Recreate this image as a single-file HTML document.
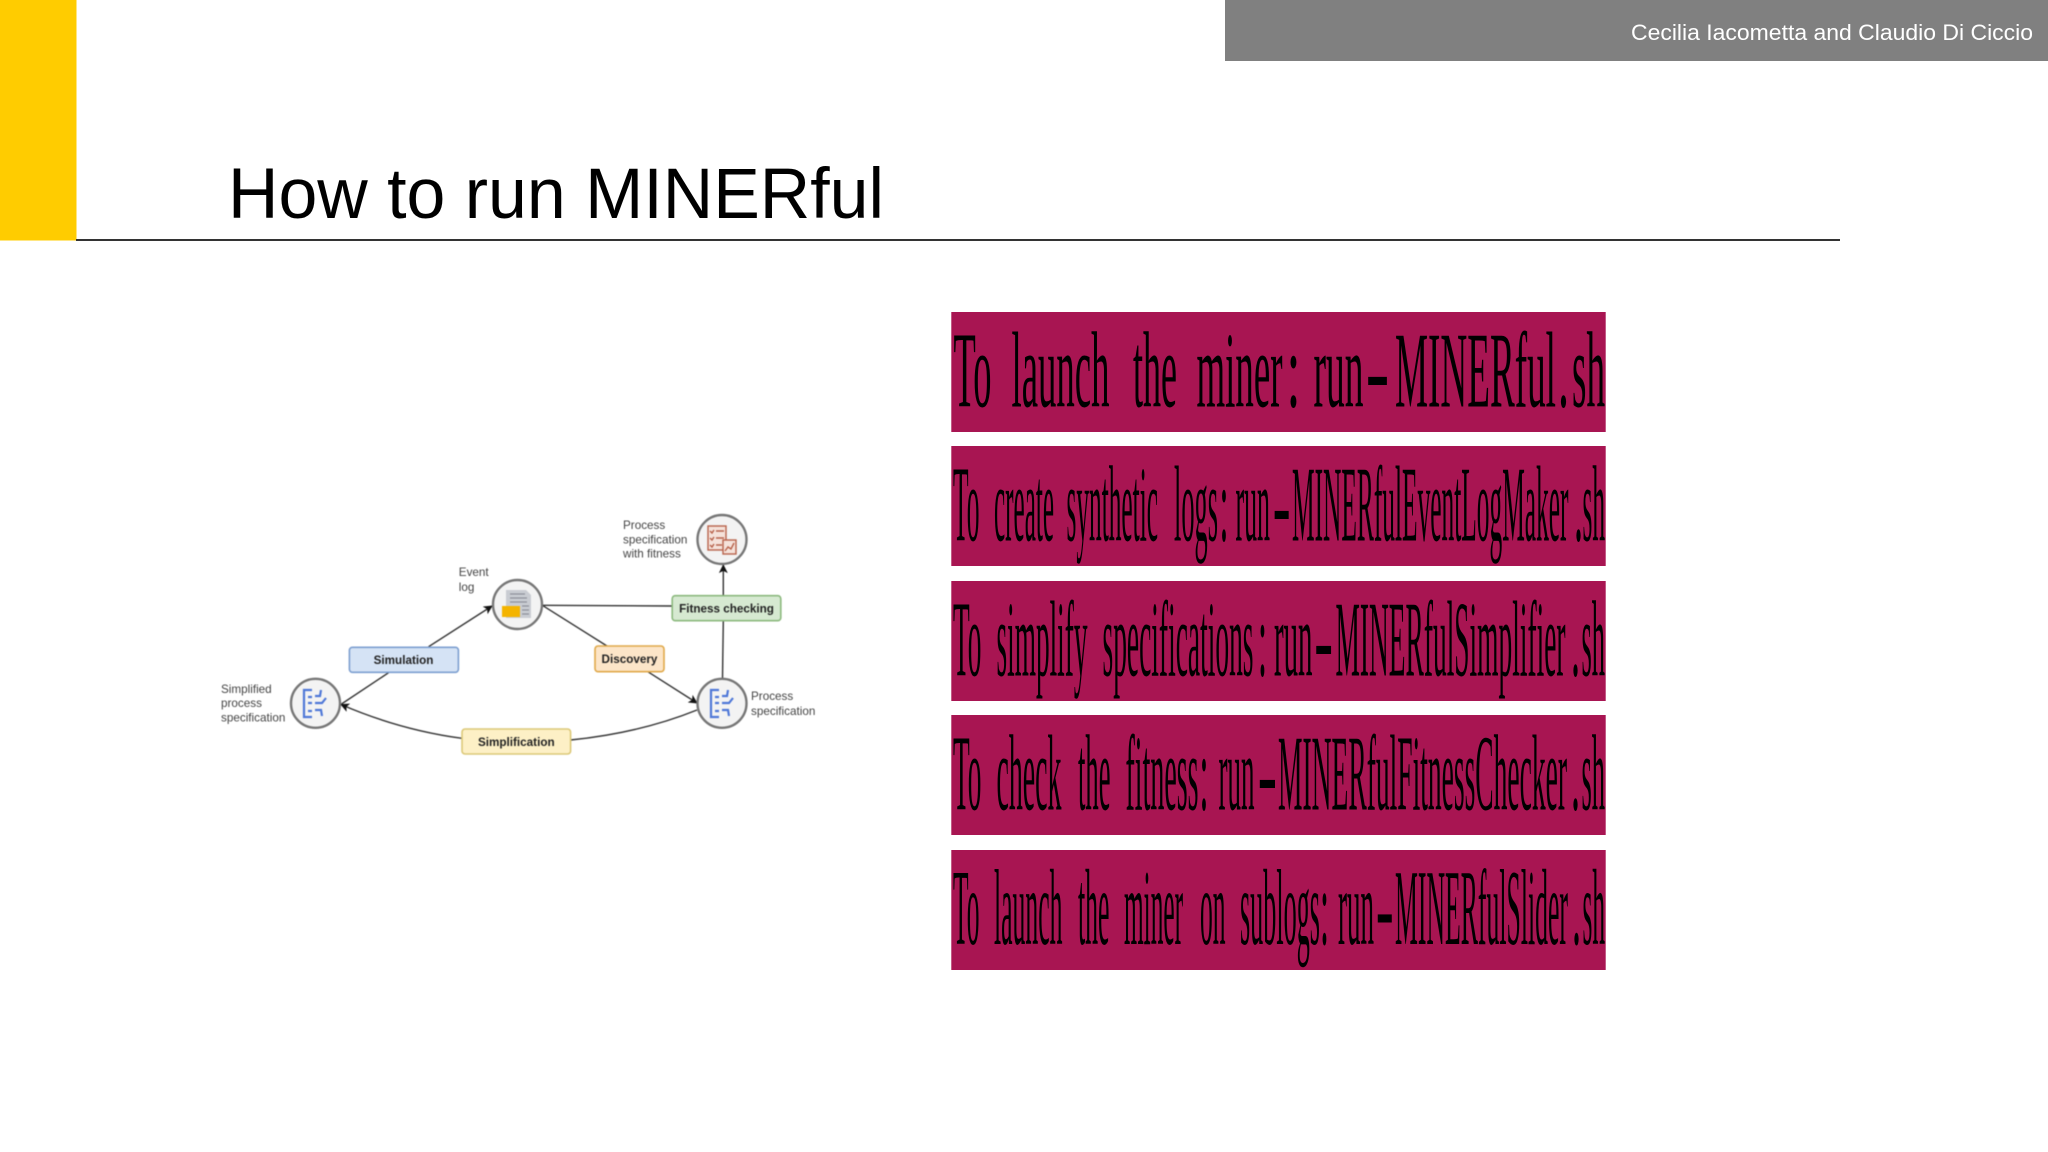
<!DOCTYPE html>
<html><head><meta charset="utf-8"><title>How to run MINERful</title>
<style>
html,body{margin:0;padding:0;background:#fff;width:2048px;height:1152px;overflow:hidden}
svg{display:block}
.s{font-family:"Liberation Serif",serif;font-size:108px;fill:#000}
.l{font-family:"Liberation Sans",sans-serif;font-size:11.7px;fill:#444}
.b{font-family:"Liberation Sans",sans-serif;font-size:11.7px;font-weight:bold;fill:#222;text-anchor:middle}
.e{fill:none;stroke:#333;stroke-width:1.4}
.n{fill:#f3f3f3;stroke:#777;stroke-width:2.4}
</style></head><body>
<svg width="2048" height="1152" viewBox="0 0 2048 1152" xmlns="http://www.w3.org/2000/svg">
<defs>
<marker id="a" viewBox="0 0 10 10" refX="9" refY="5" markerWidth="9" markerHeight="9" markerUnits="userSpaceOnUse" orient="auto"><path d="M0 0L10 5L0 10L2.5 5Z" fill="#111"/></marker>
</defs>
<rect width="2048" height="1152" fill="#fff"/>
<rect x="0" y="0" width="76.5" height="240.5" fill="#ffcc00"/>
<rect x="1225" y="0" width="823" height="61" fill="#808080"/>
<text x="1631" y="40" font-family="'Liberation Sans',sans-serif" font-size="22" fill="#fff" textLength="402" lengthAdjust="spacingAndGlyphs">Cecilia Iacometta and Claudio Di Ciccio</text>
<text x="228" y="218" font-family="'Liberation Sans',sans-serif" font-size="71" fill="#000" textLength="656" lengthAdjust="spacingAndGlyphs">How to run MINERful</text>
<rect x="76" y="239" width="1764" height="2" fill="#333"/>

<g fill="#a81552">
<rect x="951.3" y="312" width="654.4" height="120"/>
<rect x="951.3" y="446" width="654.4" height="120"/>
<rect x="951.3" y="581" width="654.4" height="120"/>
<rect x="951.3" y="715" width="654.4" height="120"/>
<rect x="951.3" y="850" width="654.4" height="120"/>
</g>

<g class="s">
<text y="406.7" x="953.5" textLength="38" lengthAdjust="spacingAndGlyphs">To</text>
<text y="406.7" x="1011.5" textLength="98" lengthAdjust="spacingAndGlyphs">launch</text>
<text y="406.7" x="1133" textLength="44" lengthAdjust="spacingAndGlyphs">the</text>
<text y="406.7" x="1196.5" textLength="86" lengthAdjust="spacingAndGlyphs">miner</text>
<text y="406.7" x="1286.5" textLength="14" lengthAdjust="spacingAndGlyphs">:</text>
<text y="406.7" x="1313.5" textLength="50" lengthAdjust="spacingAndGlyphs">run</text>
<text y="406.7" x="1365.5" textLength="24" lengthAdjust="spacingAndGlyphs">-</text>
<text y="406.7" x="1395" textLength="161" lengthAdjust="spacingAndGlyphs">MINERful</text>
<text y="406.7" x="1558" textLength="11" lengthAdjust="spacingAndGlyphs">.</text>
<text y="406.7" x="1572" textLength="33" lengthAdjust="spacingAndGlyphs">sh</text>

<text y="540.7" x="953" textLength="26.5" lengthAdjust="spacingAndGlyphs">To</text>
<text y="540.7" x="994" textLength="60" lengthAdjust="spacingAndGlyphs">create</text>
<text y="540.7" x="1066.5" textLength="91.5" lengthAdjust="spacingAndGlyphs">synthetic</text>
<text y="540.7" x="1174" textLength="44" lengthAdjust="spacingAndGlyphs">logs</text>
<text y="540.7" x="1219.5" textLength="9" lengthAdjust="spacingAndGlyphs">:</text>
<text y="540.7" x="1235.5" textLength="34.5" lengthAdjust="spacingAndGlyphs">run</text>
<text y="540.7" x="1272.6" textLength="18" lengthAdjust="spacingAndGlyphs">-</text>
<text y="540.7" x="1292" textLength="276.5" lengthAdjust="spacingAndGlyphs">MINERfulEventLogMaker</text>
<text y="540.7" x="1574" textLength="9" lengthAdjust="spacingAndGlyphs">.</text>
<text y="540.7" x="1582.5" textLength="22.5" lengthAdjust="spacingAndGlyphs">sh</text>

<text y="675.7" x="953" textLength="28.5" lengthAdjust="spacingAndGlyphs">To</text>
<text y="675.7" x="996.5" textLength="91" lengthAdjust="spacingAndGlyphs">simplify</text>
<text y="675.7" x="1102.5" textLength="151" lengthAdjust="spacingAndGlyphs">specifications</text>
<text y="675.7" x="1258" textLength="9" lengthAdjust="spacingAndGlyphs">:</text>
<text y="675.7" x="1274" textLength="38.5" lengthAdjust="spacingAndGlyphs">run</text>
<text y="675.7" x="1314.1" textLength="19" lengthAdjust="spacingAndGlyphs">-</text>
<text y="675.7" x="1335.5" textLength="230" lengthAdjust="spacingAndGlyphs">MINERfulSimplifier</text>
<text y="675.7" x="1571" textLength="9" lengthAdjust="spacingAndGlyphs">.</text>
<text y="675.7" x="1581.5" textLength="23.5" lengthAdjust="spacingAndGlyphs">sh</text>

<text y="809.5" x="953" textLength="28.5" lengthAdjust="spacingAndGlyphs">To</text>
<text y="809.5" x="996.5" textLength="65" lengthAdjust="spacingAndGlyphs">check</text>
<text y="809.5" x="1078" textLength="32.5" lengthAdjust="spacingAndGlyphs">the</text>
<text y="809.5" x="1125.5" textLength="73" lengthAdjust="spacingAndGlyphs">fitness</text>
<text y="809.5" x="1199.5" textLength="9" lengthAdjust="spacingAndGlyphs">:</text>
<text y="809.5" x="1218.5" textLength="36" lengthAdjust="spacingAndGlyphs">run</text>
<text y="809.5" x="1257.6" textLength="19.5" lengthAdjust="spacingAndGlyphs">-</text>
<text y="809.5" x="1278" textLength="289" lengthAdjust="spacingAndGlyphs">MINERfulFitnessChecker</text>
<text y="809.5" x="1571" textLength="9" lengthAdjust="spacingAndGlyphs">.</text>
<text y="809.5" x="1581.5" textLength="23.5" lengthAdjust="spacingAndGlyphs">sh</text>

<text y="944" x="953" textLength="26.5" lengthAdjust="spacingAndGlyphs">To</text>
<text y="944" x="994" textLength="68.5" lengthAdjust="spacingAndGlyphs">launch</text>
<text y="944" x="1078" textLength="31.5" lengthAdjust="spacingAndGlyphs">the</text>
<text y="944" x="1124" textLength="59" lengthAdjust="spacingAndGlyphs">miner</text>
<text y="944" x="1200" textLength="25.5" lengthAdjust="spacingAndGlyphs">on</text>
<text y="944" x="1240" textLength="80" lengthAdjust="spacingAndGlyphs">sublogs</text>
<text y="944" x="1320" textLength="9" lengthAdjust="spacingAndGlyphs">:</text>
<text y="944" x="1338" textLength="36" lengthAdjust="spacingAndGlyphs">run</text>
<text y="944" x="1375.8" textLength="18" lengthAdjust="spacingAndGlyphs">-</text>
<text y="944" x="1395" textLength="173" lengthAdjust="spacingAndGlyphs">MINERfulSlider</text>
<text y="944" x="1572" textLength="9" lengthAdjust="spacingAndGlyphs">.</text>
<text y="944" x="1582.5" textLength="22.5" lengthAdjust="spacingAndGlyphs">sh</text>
</g>

<g style="filter:blur(0.4px)">
<!-- connectors -->
<path class="e" d="M428.6 646.7L492 606" marker-end="url(#a)"/>
<path class="e" d="M388.6 672.7L341.5 704"/>
<path class="e" d="M542.9 605.7L607 646"/>
<path class="e" d="M647.8 671.7L697 703" marker-end="url(#a)"/>
<path class="e" d="M542.9 605.3L672.2 606"/>
<path class="e" d="M722.5 678.7L723.3 620.7"/>
<path class="e" d="M723.3 595.7L723.3 565" marker-end="url(#a)"/>
<path class="e" d="M697 710Q640 733 570.6 740"/>
<path class="e" d="M462 738.3Q400 730 341 704.5" marker-end="url(#a)"/>

<!-- nodes -->
<circle class="n" cx="722" cy="539.5" r="24.5"/>
<circle class="n" cx="517.5" cy="604.5" r="24.5"/>
<circle class="n" cx="315.5" cy="703.3" r="24.5"/>
<circle class="n" cx="722" cy="703.3" r="24.5"/>

<!-- event log icon -->
<path d="M506 590H526L531 595V618H506Z" fill="#c9ccd2"/>
<path d="M510 594H525M510 598H527M510 602H527M522 606H529M522 610H529M522 614H529" stroke="#8e929a" stroke-width="1.2" fill="none"/>
<rect x="502" y="606" width="18" height="11" fill="#f4b400"/>

<!-- process icons -->
<g fill="none" stroke="#4f78d8" stroke-width="2.2">
<path d="M312 690H304V717H312"/>
<path d="M308 697H312M308 703H312M308 711H312M315 696H320L321 690M315 703H322L326 698M315 710H321L322 716"/>
<path d="M719 690H711V717H719"/>
<path d="M715 697H719M715 703H719M715 711H719M722 696H727L728 690M722 703H729L733 698M722 710H728L729 716"/>
</g>

<!-- fitness icon -->
<g fill="none" stroke="#b8634c" stroke-width="1.4">
<rect x="708" y="526" width="18" height="24" fill="#f5e2da"/>
<path d="M710 531L712 533L714 530M716 531H724M710 538L712 540L714 537M716 538H724M710 545L712 547L714 544M716 545H722"/>
<rect x="723" y="540" width="13" height="14" fill="#f5e2da"/>
<path d="M725 551L728 547L731 549L734 543"/>
</g>

<!-- boxes -->
<rect x="349.4" y="647.3" width="109" height="25" rx="3" fill="#d5e3f5" stroke="#7d9fd0" stroke-width="1.6"/>
<rect x="595" y="646" width="69" height="25.7" rx="3" fill="#fce5c8" stroke="#e0a94a" stroke-width="1.6"/>
<rect x="672.2" y="595.7" width="108.6" height="25" rx="3" fill="#d6e9d1" stroke="#8cb97e" stroke-width="1.6"/>
<rect x="462" y="729" width="108.6" height="25" rx="3" fill="#fdf0c6" stroke="#dcc878" stroke-width="1.6"/>
<text class="b" x="403.5" y="664">Simulation</text>
<text class="b" x="629.5" y="663">Discovery</text>
<text class="b" x="726.5" y="612.5">Fitness checking</text>
<text class="b" x="516.3" y="746">Simplification</text>

<!-- labels -->
<text class="l" x="623" y="529">Process</text>
<text class="l" x="623" y="543.5">specification</text>
<text class="l" x="623" y="557.7">with fitness</text>
<text class="l" x="458.8" y="576">Event</text>
<text class="l" x="458.8" y="591">log</text>
<text class="l" x="221" y="693">Simplified</text>
<text class="l" x="221" y="707">process</text>
<text class="l" x="221" y="721.7">specification</text>
<text class="l" x="751" y="700">Process</text>
<text class="l" x="751" y="715">specification</text>
</g>
</svg>
</body></html>
